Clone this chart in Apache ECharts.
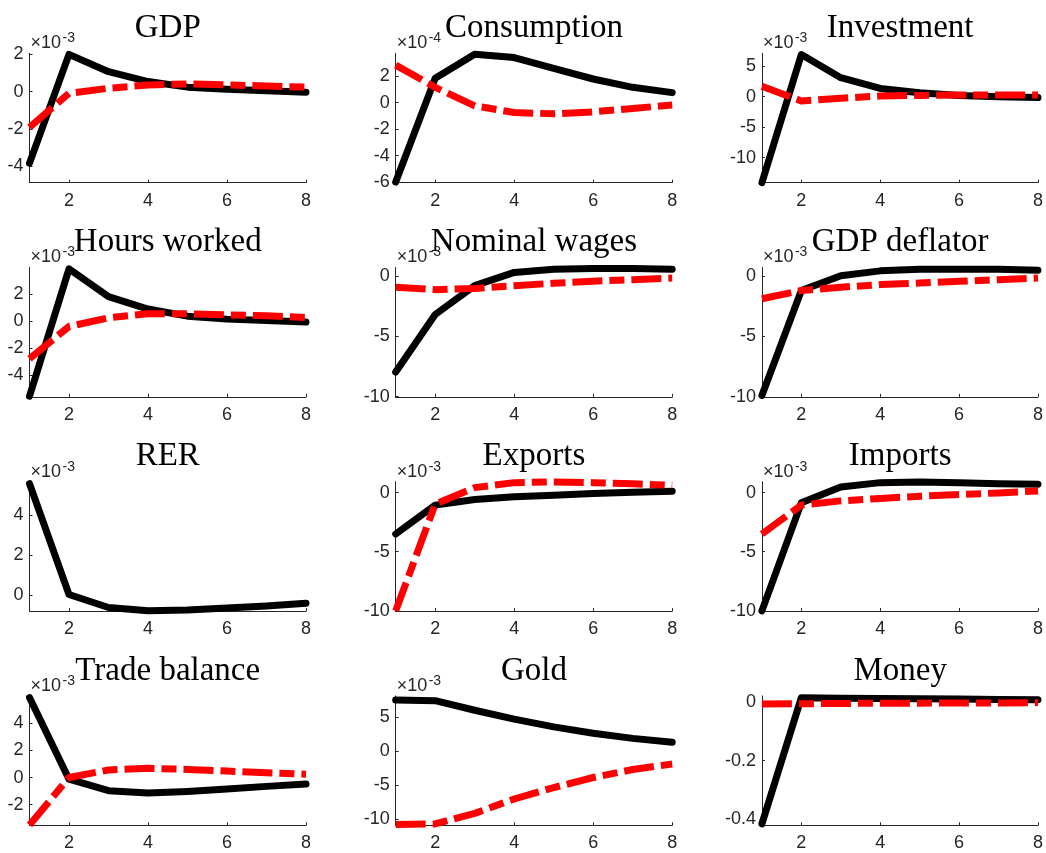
<!DOCTYPE html>
<html>
<head>
<meta charset="utf-8">
<script src="https://cdn.jsdelivr.net/npm/echarts@6/dist/echarts.min.js"></script>
<style>
  html, body { margin: 0; padding: 0; background: #fff; }
  #chart { width: 1046px; height: 853px; }
</style>
</head>
<body>
<div id="chart"></div>
<script>
// Impulse responses over an 8-period horizon: solid (black) and dashed (red) scenarios
const horizon = [1, 2, 3, 4, 5, 6, 7, 8];
const xTicks = [2, 4, 6, 8];

const gdpSolid = [-3.85e-3, 2.0e-3, 1.07e-3, 0.54e-3, 0.24e-3, 0.13e-3, 0.04e-3, -0.03e-3];
const gdpDashed = [-1.92e-3, -0.09e-3, 0.18e-3, 0.36e-3, 0.41e-3, 0.36e-3, 0.30e-3, 0.24e-3];

const consSolid = [-6.0e-4, 1.83e-4, 3.65e-4, 3.4e-4, 2.58e-4, 1.78e-4, 1.15e-4, 0.75e-4];
const consDashed = [2.83e-4, 1.15e-4, -0.25e-4, -0.75e-4, -0.85e-4, -0.7e-4, -0.45e-4, -0.18e-4];

const invSolid = [-14.1e-3, 6.9e-3, 3.1e-3, 1.35e-3, 0.65e-3, 0.2e-3, 0.0, -0.15e-3];
const invDashed = [1.7e-3, -0.7e-3, -0.27e-3, 0.1e-3, 0.2e-3, 0.27e-3, 0.27e-3, 0.25e-3];

const hoursSolid = [-5.6e-3, 3.9e-3, 1.83e-3, 0.9e-3, 0.37e-3, 0.15e-3, 0.05e-3, -0.07e-3];
const hoursDashed = [-2.8e-3, -0.4e-3, 0.25e-3, 0.55e-3, 0.55e-3, 0.47e-3, 0.4e-3, 0.27e-3];

const wageSolid = [-7.95e-3, -3.17e-3, -0.77e-3, 0.33e-3, 0.6e-3, 0.66e-3, 0.66e-3, 0.6e-3];
const wageDashed = [-0.9e-3, -1.1e-3, -1.0e-3, -0.77e-3, -0.57e-3, -0.4e-3, -0.27e-3, -0.14e-3];

const deflSolid = [-9.9e-3, -1.17e-3, 0.05e-3, 0.46e-3, 0.6e-3, 0.6e-3, 0.6e-3, 0.52e-3];
const deflDashed = [-1.86e-3, -1.17e-3, -0.9e-3, -0.68e-3, -0.55e-3, -0.41e-3, -0.27e-3, -0.14e-3];

const rerSolid = [5.58e-3, 0.03e-3, -0.62e-3, -0.78e-3, -0.75e-3, -0.65e-3, -0.54e-3, -0.41e-3];

const expSolid = [-3.5e-3, -1.06e-3, -0.59e-3, -0.36e-3, -0.22e-3, -0.08e-3, 0.03e-3, 0.11e-3];
const expDashed = [-10.0e-3, -0.98e-3, 0.42e-3, 0.84e-3, 0.9e-3, 0.84e-3, 0.75e-3, 0.61e-3];

const impSolid = [-10.0e-3, -0.87e-3, 0.47e-3, 0.84e-3, 0.9e-3, 0.84e-3, 0.75e-3, 0.7e-3];
const impDashed = [-3.5e-3, -1.06e-3, -0.7e-3, -0.5e-3, -0.31e-3, -0.17e-3, -0.03e-3, 0.14e-3];

const tbSolid = [5.9e-3, -0.12e-3, -0.97e-3, -1.14e-3, -1.02e-3, -0.85e-3, -0.65e-3, -0.48e-3];
const tbDashed = [-3.5e-3, 0.0, 0.56e-3, 0.68e-3, 0.6e-3, 0.48e-3, 0.36e-3, 0.24e-3];

const goldSolid = [7.5e-3, 7.4e-3, 6.0e-3, 4.7e-3, 3.57e-3, 2.63e-3, 1.88e-3, 1.31e-3];
const goldDashed = [-10.75e-3, -10.65e-3, -9.1e-3, -7.0e-3, -5.33e-3, -3.85e-3, -2.68e-3, -1.88e-3];

const moneySolid = [-0.417, 0.016, 0.014, 0.013, 0.012, 0.011, 0.010, 0.009];
const moneyDashed = [-0.006, -0.005, -0.004, -0.003, -0.003, -0.002, -0.002, -0.001];

// Panel definitions: title, series, y-limits, y tick values and the axis exponent
const panels = [
  { title: 'GDP', solid: gdpSolid, dashed: gdpDashed, ylim: [-4.9e-3, 2.06e-3], yTicks: [-4e-3, -2e-3, 0, 2e-3], exp: -3 },
  { title: 'Consumption', solid: consSolid, dashed: consDashed, ylim: [-6.05e-4, 3.72e-4], yTicks: [-6e-4, -4e-4, -2e-4, 0, 2e-4], exp: -4 },
  { title: 'Investment', solid: invSolid, dashed: invDashed, ylim: [-14.1e-3, 7.1e-3], yTicks: [-10e-3, -5e-3, 0, 5e-3], exp: -3 },
  { title: 'Hours worked', solid: hoursSolid, dashed: hoursDashed, ylim: [-5.65e-3, 4.0e-3], yTicks: [-4e-3, -2e-3, 0, 2e-3], exp: -3 },
  { title: 'Nominal wages', solid: wageSolid, dashed: wageDashed, ylim: [-10.02e-3, 0.74e-3], yTicks: [-10e-3, -5e-3, 0], exp: -3 },
  { title: 'GDP deflator', solid: deflSolid, dashed: deflDashed, ylim: [-10.02e-3, 0.74e-3], yTicks: [-10e-3, -5e-3, 0], exp: -3 },
  { title: 'RER', solid: rerSolid, dashed: null, ylim: [-0.8e-3, 5.68e-3], yTicks: [0, 2e-3, 4e-3], exp: -3 },
  { title: 'Exports', solid: expSolid, dashed: expDashed, ylim: [-10.02e-3, 0.92e-3], yTicks: [-10e-3, -5e-3, 0], exp: -3 },
  { title: 'Imports', solid: impSolid, dashed: impDashed, ylim: [-10.02e-3, 0.92e-3], yTicks: [-10e-3, -5e-3, 0], exp: -3 },
  { title: 'Trade balance', solid: tbSolid, dashed: tbDashed, ylim: [-3.52e-3, 6.02e-3], yTicks: [-2e-3, 0, 2e-3, 4e-3], exp: -3 },
  { title: 'Gold', solid: goldSolid, dashed: goldDashed, ylim: [-10.85e-3, 8.1e-3], yTicks: [-10e-3, -5e-3, 0, 5e-3], exp: -3 },
  { title: 'Money', solid: moneySolid, dashed: moneyDashed, ylim: [-0.422, 0.022], yTicks: [-0.4, -0.2, 0], exp: null }
];

// Subplot layout (pixels)
const colLeft = [29.5, 395.7, 761.9];
const rowTop = [53.3, 267.5, 481.7, 695.9];
const plotW = 276.5;
const plotH = 129.4;

const axisColor = '#262626';
const tickFont = '"Liberation Sans", Arial, Helvetica, sans-serif';
const titleFont = '"Liberation Serif", "Times New Roman", serif';

const grids = [], xAxes = [], yAxes = [], series = [], graphics = [];

panels.forEach((p, i) => {
  const left = colLeft[i % 3];
  const top = rowTop[Math.floor(i / 3)];
  grids.push({ left: left, top: top, width: plotW, height: plotH, containLabel: false });

  xAxes.push({
    gridIndex: i, type: 'value', min: 1, max: 8,
    axisLine: { show: true, onZero: false, lineStyle: { color: axisColor, width: 1 } },
    axisTick: { show: true, inside: true, length: 3, customValues: xTicks, lineStyle: { color: axisColor } },
    axisLabel: { show: true, customValues: xTicks, margin: 9, color: axisColor, fontSize: 18, fontFamily: tickFont },
    splitLine: { show: false }
  });

  const scale = p.exp === null ? 1 : Math.pow(10, p.exp);
  yAxes.push({
    gridIndex: i, type: 'value', min: p.ylim[0], max: p.ylim[1],
    axisLine: { show: true, onZero: false, lineStyle: { color: axisColor, width: 1 } },
    axisTick: { show: true, inside: true, length: 3, customValues: p.yTicks, lineStyle: { color: axisColor } },
    axisLabel: {
      show: true, customValues: p.yTicks, margin: 6, color: axisColor, fontSize: 18, fontFamily: tickFont,
      formatter: v => String(Math.round(v / scale * 1000) / 1000)
    },
    splitLine: { show: false }
  });

  series.push({
    type: 'line', xAxisIndex: i, yAxisIndex: i,
    data: horizon.map((t, k) => [t, p.solid[k]]),
    showSymbol: false, symbol: 'none', clip: false, silent: true, z: 2,
    lineStyle: { color: '#000000', width: 7, cap: 'round', join: 'round' }
  });
  if (p.dashed) {
    series.push({
      type: 'line', xAxisIndex: i, yAxisIndex: i,
      data: horizon.map((t, k) => [t, p.dashed[k]]),
      showSymbol: false, symbol: 'none', clip: false, silent: true, z: 3,
      lineStyle: { color: '#ff0000', width: 7, type: [30, 7, 15, 7], cap: 'butt', join: 'round' }
    });
  }

  graphics.push({
    type: 'text', z: 10, silent: true,
    style: {
      x: left + plotW / 2, y: top - 25, text: p.title,
      font: '33px ' + titleFont, fill: '#000000',
      textAlign: 'center', textVerticalAlign: 'middle'
    }
  });

  if (p.exp !== null) {
    graphics.push({
      type: 'text', z: 10, silent: true,
      style: {
        x: left + 1, y: top - 10, text: '\u00d710',
        font: '18px ' + tickFont, fill: axisColor,
        textAlign: 'left', textVerticalAlign: 'middle'
      }
    });
    graphics.push({
      type: 'text', z: 10, silent: true,
      style: {
        x: left + 33, y: top - 15, text: String(p.exp),
        font: '14px ' + tickFont, fill: axisColor,
        textAlign: 'left', textVerticalAlign: 'middle'
      }
    });
  }
});

const chart = echarts.init(document.getElementById('chart'), null, { renderer: 'canvas' });
chart.setOption({
  animation: false,
  backgroundColor: '#ffffff',
  grid: grids,
  xAxis: xAxes,
  yAxis: yAxes,
  series: series,
  graphic: graphics
});
</script>
</body>
</html>
